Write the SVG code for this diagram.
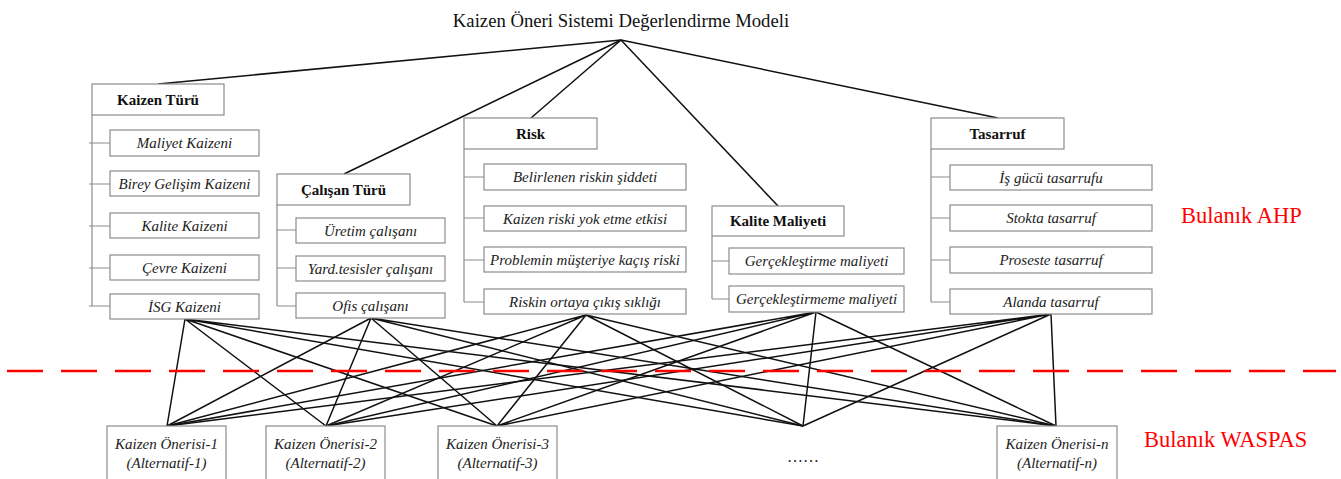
<svg xmlns="http://www.w3.org/2000/svg" width="1341" height="479" viewBox="0 0 1341 479">
<style>
.bx{fill:#fff;stroke:#8c8c8c;stroke-width:1.2}
.tr{fill:none;stroke:#8c8c8c;stroke-width:1.2}
.ln{stroke:#111;stroke-width:1.5;fill:none}
.hd{font-family:"Liberation Serif",serif;font-weight:bold;font-size:15px;fill:#111;text-anchor:middle}
.it{font-family:"Liberation Serif",serif;font-style:italic;font-size:15px;fill:#222;text-anchor:middle}
.rd{font-family:"Liberation Serif",serif;font-size:22.5px;fill:#ff0000}
</style>
<rect width="1341" height="479" fill="#fff"/>
<g id="connectors">
<g class="ln">
<line x1="621" y1="40" x2="158" y2="84"/>
<line x1="621" y1="40" x2="344" y2="174"/>
<line x1="621" y1="40" x2="531" y2="118"/>
<line x1="621" y1="40" x2="778" y2="206"/>
<line x1="621" y1="40" x2="998" y2="118"/>
</g>
<g class="tr">
<path d="M92 115V306M89 143H110M89 184H110M89 226H110M89 268H110M89 306H110"/>
<path d="M277 205V306M277 230H296M277 268H296M277 306H296"/>
<path d="M464 149V302M464 177H484M464 218H484M464 260H484M464 302H484"/>
<path d="M712 236V299M712 261H729M712 299H729"/>
<path d="M931 149V302M931 177H950M931 218H950M931 260H950M931 302H950"/>
</g>
<g class="ln" stroke-width="1.4">
<path d="M185 319L167 426M185 319L326 426M185 319L497 426M185 319L803 426M185 319L1056 426"/>
<path d="M371 318L167 426M371 318L326 426M371 318L497 426M371 318L803 426M371 318L1056 426"/>
<path d="M586 315L167 426M586 315L326 426M586 315L497 426M586 315L803 426M586 315L1056 426"/>
<path d="M816 312L167 426M816 312L326 426M816 312L497 426M816 312L803 426M816 312L1056 426"/>
<path d="M1051 314L167 426M1051 314L326 426M1051 314L497 426M1051 314L803 426M1051 314L1056 426"/>
</g>
<line x1="7" y1="371" x2="1336" y2="371" stroke="#ff0000" stroke-width="2.5" stroke-dasharray="36 18"/>
</g>
<g id="title"><text x="621" y="27" font-family="Liberation Serif,serif" font-size="18.7" fill="#111" text-anchor="middle">Kaizen Öneri Sistemi Değerlendirme Modeli</text></g>
<g id="kaizen-turu">
<rect class="bx" x="92" y="84" width="132" height="31"/><text class="hd" x="158" y="104.5">Kaizen Türü</text>
<rect class="bx" x="110" y="130" width="149" height="26"/><text class="it" x="184.5" y="148">Maliyet Kaizeni</text>
<rect class="bx" x="110" y="171" width="149" height="25"/><text class="it" x="184.5" y="189">Birey Gelişim Kaizeni</text>
<rect class="bx" x="110" y="213" width="149" height="25"/><text class="it" x="184.5" y="231">Kalite Kaizeni</text>
<rect class="bx" x="110" y="255" width="149" height="25"/><text class="it" x="184.5" y="273">Çevre Kaizeni</text>
<rect class="bx" x="110" y="294" width="149" height="25"/><text class="it" x="184.5" y="312">İSG Kaizeni</text>
</g>
<g id="calisan-turu">
<rect class="bx" x="277" y="174" width="133" height="31"/><text class="hd" x="343.5" y="194.5">Çalışan Türü</text>
<rect class="bx" x="296" y="218" width="149" height="25"/><text class="it" x="370.5" y="236">Üretim çalışanı</text>
<rect class="bx" x="296" y="256" width="149" height="25"/><text class="it" x="370.5" y="274">Yard.tesisler çalışanı</text>
<rect class="bx" x="296" y="293" width="149" height="25"/><text class="it" x="370.5" y="311">Ofis çalışanı</text>
</g>
<g id="risk">
<rect class="bx" x="464" y="118" width="133" height="31"/><text class="hd" x="530.5" y="138.5">Risk</text>
<rect class="bx" x="484" y="164" width="202" height="26"/><text class="it" x="585" y="182">Belirlenen riskin şiddeti</text>
<rect class="bx" x="484" y="206" width="202" height="25"/><text class="it" x="585" y="224">Kaizen riski yok etme etkisi</text>
<rect class="bx" x="484" y="247" width="202" height="25"/><text class="it" x="585" y="265">Problemin müşteriye kaçış riski</text>
<rect class="bx" x="484" y="289" width="202" height="25"/><text class="it" x="585" y="307">Riskin ortaya çıkış sıklığı</text>
</g>
<g id="kalite-maliyeti">
<rect class="bx" x="712" y="206" width="132" height="30"/><text class="hd" x="778" y="226">Kalite Maliyeti</text>
<rect class="bx" x="729" y="248" width="175" height="26"/><text class="it" x="816.5" y="266">Gerçekleştirme maliyeti</text>
<rect class="bx" x="729" y="286" width="175" height="26"/><text class="it" x="816.5" y="304">Gerçekleştirmeme maliyeti</text>
</g>
<g id="tasarruf">
<rect class="bx" x="931" y="118" width="133" height="31"/><text class="hd" x="997.5" y="138.5">Tasarruf</text>
<rect class="bx" x="950" y="165" width="202" height="25"/><text class="it" x="1051" y="183">İş gücü tasarrufu</text>
<rect class="bx" x="950" y="205" width="202" height="26"/><text class="it" x="1051" y="223">Stokta tasarruf</text>
<rect class="bx" x="950" y="247" width="202" height="26"/><text class="it" x="1051" y="265">Proseste tasarruf</text>
<rect class="bx" x="950" y="289" width="202" height="25"/><text class="it" x="1051" y="307">Alanda tasarruf</text>
</g>
<g id="alt-1"><rect class="bx" x="107" y="426" width="119" height="60"/><text class="it" x="166.5" y="449">Kaizen Önerisi-1</text><text class="it" x="166.5" y="468">(Alternatif-1)</text></g>
<g id="alt-2"><rect class="bx" x="266" y="426" width="119" height="60"/><text class="it" x="325.5" y="449">Kaizen Önerisi-2</text><text class="it" x="325.5" y="468">(Alternatif-2)</text></g>
<g id="alt-3"><rect class="bx" x="438" y="426" width="119" height="60"/><text class="it" x="497.5" y="449">Kaizen Önerisi-3</text><text class="it" x="497.5" y="468">(Alternatif-3)</text></g>
<g id="alt-dots"><text x="803" y="462" font-family="Liberation Serif,serif" font-size="16" fill="#222" text-anchor="middle">……</text></g>
<g id="alt-n"><rect class="bx" x="997" y="426" width="120" height="60"/><text class="it" x="1057" y="449">Kaizen Önerisi-n</text><text class="it" x="1057" y="468">(Alternatif-n)</text></g>
<g id="labels">
<text class="rd" x="1181" y="223">Bulanık AHP</text>
<text class="rd" x="1144" y="447">Bulanık WASPAS</text>
</g>
</svg>
